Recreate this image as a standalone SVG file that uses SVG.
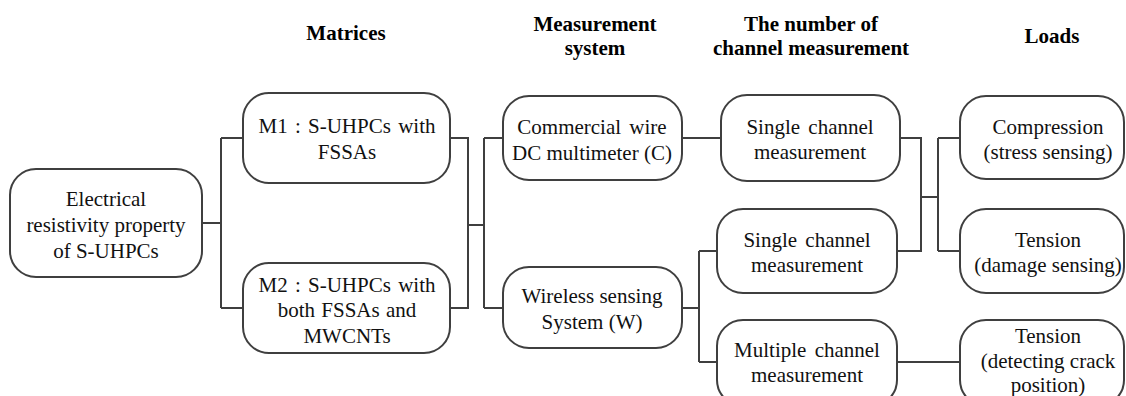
<svg xmlns="http://www.w3.org/2000/svg" width="1126" height="396" viewBox="0 0 1126 396">
<style>
.box{fill:#fff;stroke:#3f3f3f;stroke-width:2}
.t{font-family:"Liberation Serif","Times New Roman",serif;font-size:21px;fill:#111;text-anchor:middle}
.h{font-family:"Liberation Serif","Times New Roman",serif;font-size:21px;font-weight:bold;fill:#000;text-anchor:middle}
.c{fill:none;stroke:#3f3f3f;stroke-width:2}
</style>
<rect width="1126" height="396" fill="#fff"/>
<g id="headers">
<text class="h" x="346" y="40">Matrices</text>
<text class="h" x="595" y="31">Measurement</text>
<text class="h" x="595" y="55">system</text>
<text class="h" x="811" y="31">The number of</text>
<text class="h" x="811" y="55">channel measurement</text>
<text class="h" x="1052" y="43">Loads</text>
</g>
<g id="connectors">
<path class="c" d="M202 223H221M221 138V308M221 138H243M221 308H243"/>
<path class="c" d="M450 138H468V308H450M468 225H484M484 138V308M484 138H503M484 308H503"/>
<path class="c" d="M682 138H721"/>
<path class="c" d="M682 308H699M699 251V362M699 251H717M699 362H717"/>
<path class="c" d="M900 138H921V251H897M921 197H938M938 138V251M938 138H960M938 251H960"/>
<path class="c" d="M897 362H960"/>
</g>
<g id="n_root">
<rect class="box" x="10" y="169" width="192" height="108" rx="26"/>
<text class="t" x="106" y="206">Electrical</text>
<text class="t" x="106" y="232">resistivity property</text>
<text class="t" x="106" y="258">of S-UHPCs</text>
</g>
<g id="n_m1">
<rect class="box" x="243" y="93" width="207" height="90" rx="26"/>
<text class="t" x="347" y="133" word-spacing="2">M1 : S-UHPCs with</text>
<text class="t" x="347" y="159">FSSAs</text>
</g>
<g id="n_m2">
<rect class="box" x="243" y="263" width="207" height="90" rx="26"/>
<text class="t" x="347" y="292" word-spacing="2">M2 : S-UHPCs with</text>
<text class="t" x="347" y="317" word-spacing="1">both FSSAs and</text>
<text class="t" x="347" y="343">MWCNTs</text>
</g>
<g id="n_c">
<rect class="box" x="503" y="96" width="179" height="84" rx="26"/>
<text class="t" x="592" y="134" word-spacing="3">Commercial wire</text>
<text class="t" x="592" y="160">DC multimeter (C)</text>
</g>
<g id="n_w">
<rect class="box" x="503" y="267" width="179" height="81" rx="26"/>
<text class="t" x="592" y="303">Wireless sensing</text>
<text class="t" x="592" y="329">System (W)</text>
</g>
<g id="n_s1">
<rect class="box" x="721" y="95" width="179" height="86" rx="26"/>
<text class="t" x="810" y="134" word-spacing="3">Single channel</text>
<text class="t" x="810" y="159">measurement</text>
</g>
<g id="n_s2">
<rect class="box" x="717" y="209" width="180" height="84" rx="26"/>
<text class="t" x="807" y="247" word-spacing="3">Single channel</text>
<text class="t" x="807" y="272">measurement</text>
</g>
<g id="n_mc">
<rect class="box" x="717" y="320" width="180" height="86" rx="26"/>
<text class="t" x="807" y="357" word-spacing="3">Multiple channel</text>
<text class="t" x="807" y="382">measurement</text>
</g>
<g id="n_comp">
<rect class="box" x="960" y="96" width="164" height="83" rx="26"/>
<text class="t" x="1048" y="134">Compression</text>
<text class="t" x="1048" y="159">(stress sensing)</text>
</g>
<g id="n_ten">
<rect class="box" x="960" y="209" width="164" height="84" rx="26"/>
<text class="t" x="1048" y="247">Tension</text>
<text class="t" x="1048" y="272">(damage sensing)</text>
</g>
<g id="n_ten2">
<rect class="box" x="960" y="320" width="164" height="86" rx="26"/>
<text class="t" x="1048" y="343">Tension</text>
<text class="t" x="1048" y="368">(detecting crack</text>
<text class="t" x="1048" y="392">position)</text>
</g>
</svg>
